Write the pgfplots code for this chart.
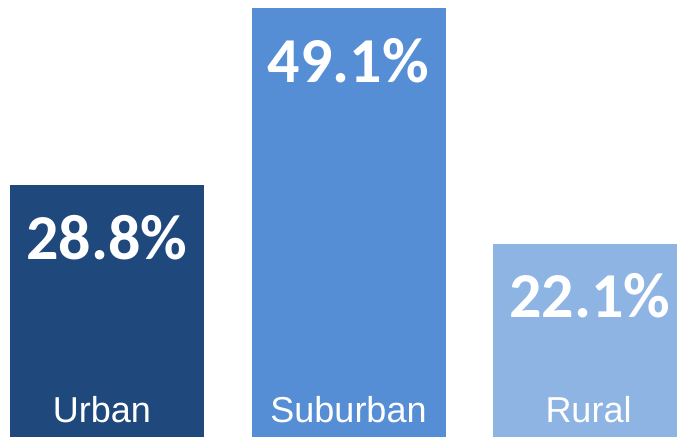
\documentclass[border=0pt]{standalone}
\usepackage{pgfplots}
\pgfplotsset{compat=1.18}
\usepackage{fontspec}
\setmainfont{Liberation Sans}
\newfontfamily\calib{Carlito}
\definecolor{cUrban}{RGB}{31,73,125}
\definecolor{cSub}{RGB}{85,142,213}
\definecolor{cRural}{RGB}{142,180,227}
\begin{document}
\begin{tikzpicture}
\begin{axis}[
  name=main,
  scale only axis, width=677bp, height=437bp,
  hide axis,
  xmin=-0.4431, xmax=2.3602, ymin=0, ymax=50.02,
  ybar, bar width=0.8033, bar shift=0pt,
]
\addplot[fill=cUrban, draw=none] coordinates {(0,28.8)};
\addplot[fill=cSub, draw=none] coordinates {(1,49.1)};
\addplot[fill=cRural, draw=none] coordinates {(2,22.1)};
\foreach \x/\v in {0/28.8,1/49.1,2/22.1} {
  \edef\tmp{\noexpand\node[anchor=base, yshift=-74bp, text=white, font=\noexpand\calib\noexpand\bfseries\noexpand\fontsize{64bp}{70bp}\noexpand\selectfont] at (axis cs:\x,\v) {\v\noexpand\%};}
  \tmp
}
\node[anchor=base, yshift=15bp, xshift=-5bp, text=white, font=\fontsize{36bp}{40bp}\selectfont] at (axis cs:0,0) {Urban};
\node[anchor=base, yshift=15bp, text=white, font=\fontsize{36bp}{40bp}\selectfont] at (axis cs:1,0) {Suburban};
\node[anchor=base, yshift=15bp, xshift=-1.5bp, text=white, font=\fontsize{36bp}{40bp}\selectfont] at (axis cs:2,0) {Rural};
\end{axis}
\pgfresetboundingbox
\path[use as bounding box] (main.south west) rectangle (main.north east);
\end{tikzpicture}
\end{document}
